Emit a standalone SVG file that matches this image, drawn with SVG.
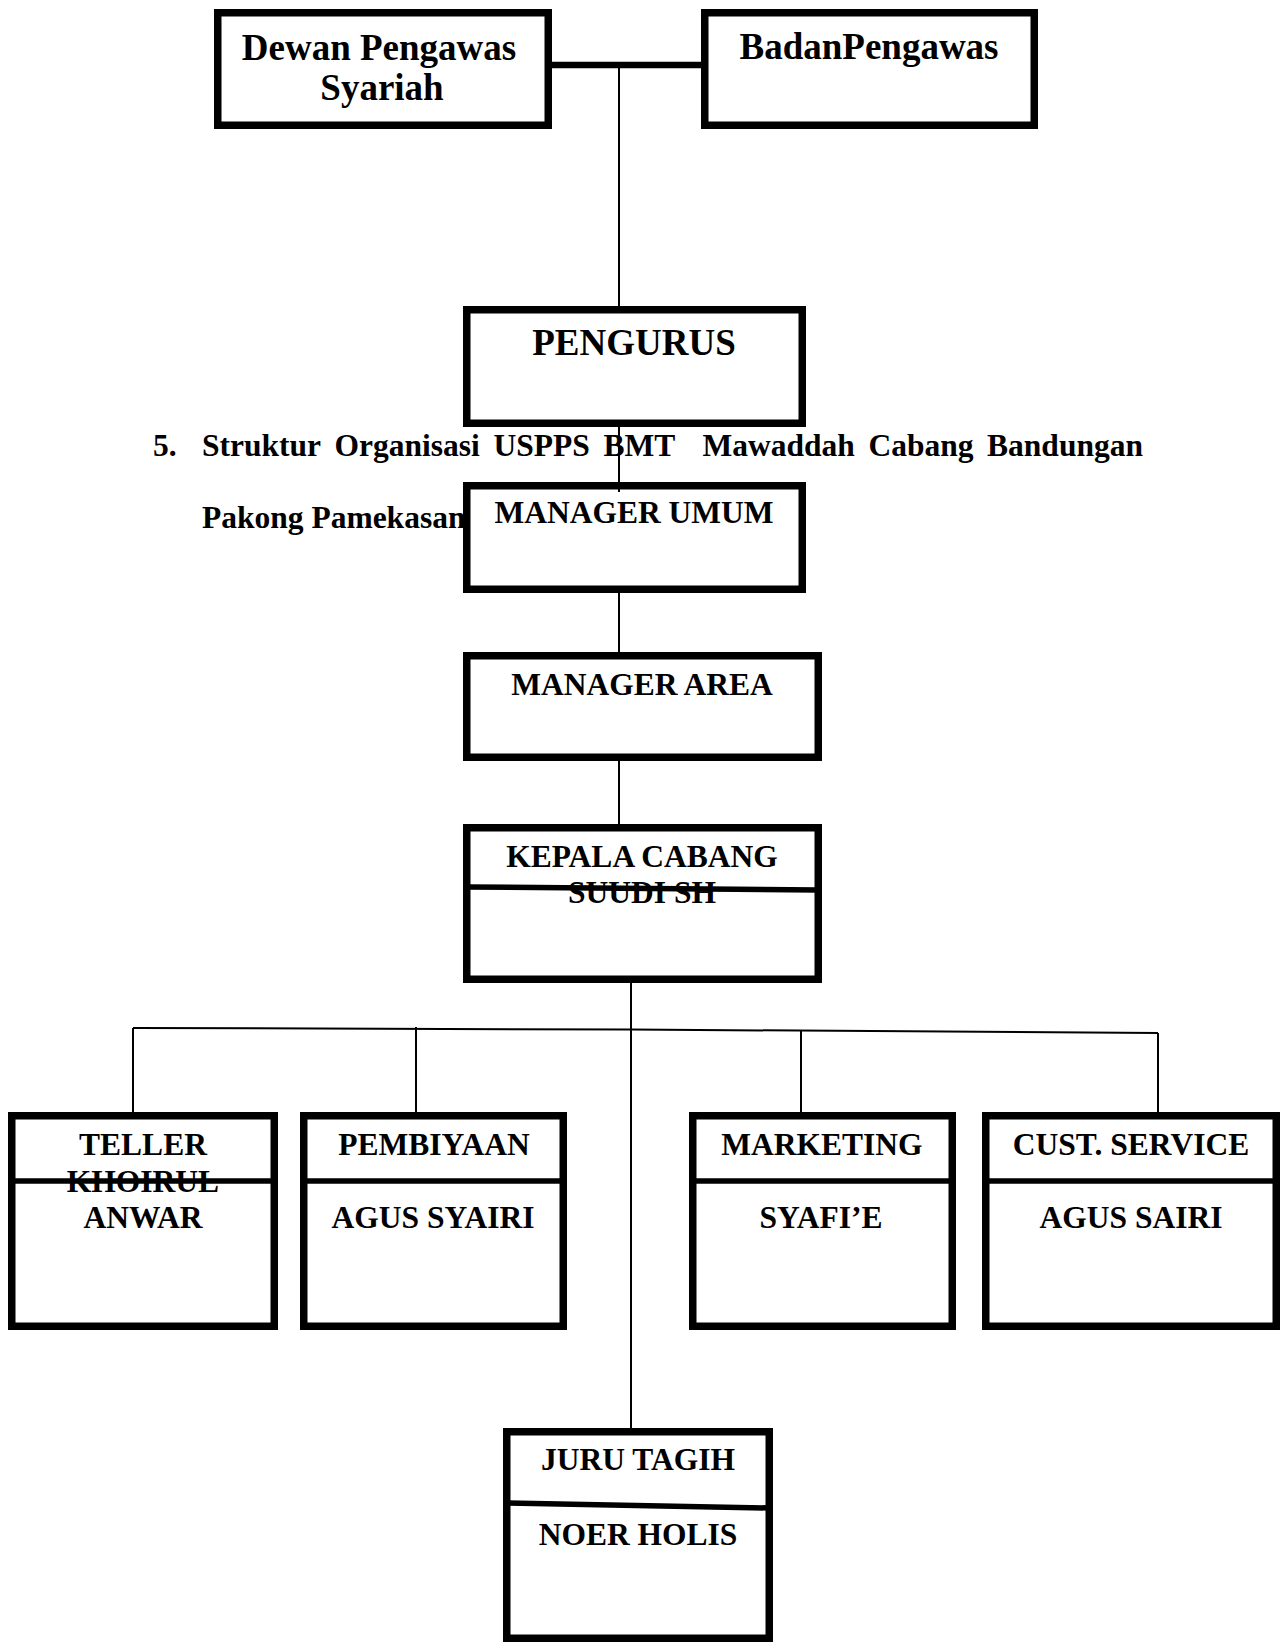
<svg xmlns="http://www.w3.org/2000/svg" width="1286" height="1643" viewBox="0 0 1286 1643">
<style>
.box{fill:#fff;stroke:#000;stroke-width:7.5}
.div{stroke:#000;stroke-width:5.5;fill:none}
.lbl{font-family:"Liberation Serif","Times New Roman",serif;font-weight:bold;font-size:31.5px;fill:#000;text-anchor:middle}
.big{font-size:37px}
.title{font-family:"Liberation Serif","Times New Roman",serif;font-weight:bold;font-size:31.5px;fill:#000}
.con{stroke:#000;stroke-width:2;fill:none}
</style>
<rect width="1286" height="1643" fill="#fff"/>
<g id="title">
<text class="title" y="456"><tspan x="153">5.</tspan><tspan x="202">Struktur</tspan><tspan x="334.6">Organisasi</tspan><tspan x="493.6">USPPS</tspan><tspan x="603.5">BMT</tspan><tspan x="702.6">Mawaddah</tspan><tspan x="868.5">Cabang</tspan><tspan x="987.1">Bandungan</tspan></text>
<text class="title" x="202" y="528">Pakong Pamekasan</text>
</g>
<g id="node-dewan">
<rect class="box" x="217.75" y="12.75" width="330.5" height="112.5"/>
<text class="lbl big" x="379" y="60">Dewan Pengawas</text>
<text class="lbl big" x="382" y="100">Syariah</text>
</g>
<g id="node-badan">
<rect class="box" x="704.75" y="12.75" width="329.5" height="112.5"/>
<text class="lbl big" x="869" y="59">BadanPengawas</text>
</g>
<g id="node-pengurus">
<rect class="box" x="466.75" y="309.75" width="335.5" height="113.5"/>
<text class="lbl big" x="634" y="355">PENGURUS</text>
</g>
<g id="node-manager-umum">
<rect class="box" x="466.75" y="485.75" width="335.5" height="103.5"/>
<text class="lbl" x="634" y="523">MANAGER UMUM</text>
</g>
<g id="node-manager-area">
<rect class="box" x="466.75" y="655.75" width="351.5" height="101.5"/>
<text class="lbl" x="642" y="695">MANAGER AREA</text>
</g>
<g id="node-kepala-cabang">
<rect class="box" x="466.75" y="827.75" width="351.5" height="151.5"/>
<text class="lbl" x="642" y="867">KEPALA CABANG</text>
<text class="lbl" x="642" y="903">SUUDI SH</text>
<line class="div" x1="467" y1="887" x2="818" y2="890"/>
</g>
<g id="node-teller">
<rect class="box" x="11.75" y="1115.75" width="262.5" height="210.5"/>
<text class="lbl" x="143" y="1155">TELLER</text>
<text class="lbl" x="143" y="1192">KHOIRUL</text>
<text class="lbl" x="143" y="1228">ANWAR</text>
<line class="div" x1="12" y1="1181" x2="274" y2="1181"/>
</g>
<g id="node-pembiyaan">
<rect class="box" x="303.75" y="1115.75" width="259.5" height="210.5"/>
<text class="lbl" x="434" y="1155">PEMBIYAAN</text>
<line class="div" x1="304" y1="1181" x2="563" y2="1181"/>
<text class="lbl" x="433" y="1228">AGUS SYAIRI</text>
</g>
<g id="node-marketing">
<rect class="box" x="692.75" y="1115.75" width="259.5" height="210.5"/>
<text class="lbl" x="822" y="1155">MARKETING</text>
<line class="div" x1="693" y1="1181" x2="952" y2="1181"/>
<text class="lbl" x="821" y="1228">SYAFI’E</text>
</g>
<g id="node-cust-service">
<rect class="box" x="985.75" y="1115.75" width="290.5" height="210.5"/>
<text class="lbl" x="1131" y="1155">CUST. SERVICE</text>
<line class="div" x1="986" y1="1181" x2="1276" y2="1181"/>
<text class="lbl" x="1131" y="1228">AGUS SAIRI</text>
</g>
<g id="node-juru-tagih">
<rect class="box" x="506.75" y="1431.75" width="262.5" height="206.5"/>
<text class="lbl" x="638" y="1470">JURU TAGIH</text>
<line class="div" x1="507" y1="1503" x2="769" y2="1508"/>
<text class="lbl" x="638" y="1545">NOER HOLIS</text>
</g>
<g id="connectors">
<line x1="552" y1="65" x2="701" y2="65" stroke="#000" stroke-width="6.5"/>
<line class="con" x1="619" y1="65" x2="619" y2="306"/>
<line class="con" x1="619" y1="427" x2="619" y2="492"/>
<line class="con" x1="619" y1="593" x2="619" y2="652"/>
<line class="con" x1="619" y1="761" x2="619" y2="824"/>
<line class="con" x1="631" y1="983" x2="631" y2="1428"/>
<polyline class="con" points="133,1028 631,1029.5 1158,1033"/>
<line class="con" x1="133" y1="1028" x2="133" y2="1112"/>
<line class="con" x1="416" y1="1027" x2="416" y2="1112"/>
<line class="con" x1="801" y1="1031" x2="801" y2="1112"/>
<line class="con" x1="1158" y1="1033" x2="1158" y2="1112"/>
</g>
</svg>
